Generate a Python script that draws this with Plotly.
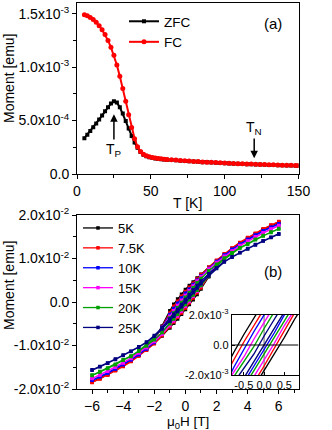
import numpy as np
import plotly.graph_objects as go

FONT = "Arial, 'Liberation Sans', Helvetica, sans-serif"

# ---------------- panel (a): M(T) ----------------
T_K = [5, 7, 9, 11, 13, 15, 17, 19, 21, 23, 25, 27, 29, 31, 33, 35, 37, 39, 41, 43, 45,
       47, 49, 51, 53, 55, 57, 59, 61,
       64, 67, 70, 73, 76, 79, 82, 85, 88, 91, 94, 97, 100, 103, 106, 109, 112, 115,
       118, 121, 124, 127, 130, 133, 136, 139, 142, 145, 148, 150]
# moments in units of 1e-3 emu
FC_E3 = [1.490, 1.480, 1.465, 1.445, 1.420, 1.388, 1.350, 1.305, 1.250, 1.185, 1.110,
         1.020, 0.915, 0.800, 0.680, 0.555, 0.435, 0.330, 0.255, 0.210, 0.185, 0.170,
         0.161, 0.155, 0.150, 0.146, 0.142, 0.139, 0.136,
         0.133, 0.130, 0.127, 0.124, 0.121, 0.118, 0.116, 0.113, 0.111, 0.109, 0.107,
         0.105, 0.103, 0.101, 0.099, 0.097, 0.096, 0.094, 0.093, 0.091, 0.090, 0.088,
         0.087, 0.086, 0.084, 0.083, 0.082, 0.081, 0.080, 0.079]
ZFC_E3 = [0.335, 0.368, 0.402, 0.437, 0.473, 0.510, 0.548, 0.587, 0.625, 0.660, 0.680,
          0.668, 0.625, 0.565, 0.495, 0.425, 0.355, 0.295, 0.245, 0.205, 0.180, 0.165,
          0.157, 0.151, 0.146, 0.142, 0.139, 0.136, 0.133,
          0.131, 0.128, 0.125, 0.122, 0.119, 0.116, 0.114, 0.111, 0.109, 0.107, 0.105,
          0.103, 0.101, 0.099, 0.097, 0.095, 0.094, 0.092, 0.091, 0.089, 0.088, 0.086,
          0.085, 0.084, 0.082, 0.081, 0.080, 0.079, 0.078, 0.077]

# ---------------- panel (b): M(H) loops ----------------
H_T = [-6, -5.5, -5, -4.5, -4, -3.5, -3, -2.5, -2, -1.5, -1, -0.75, -0.5, -0.25, 0,
       0.25, 0.5, 0.75, 1, 1.5, 2, 2.5, 3, 3.5, 4, 4.5, 5, 5.5, 6]
LOOP_LABELS = ["5K", "7.5K", "10K", "15K", "20K", "25K"]
LOOP_COLORS = ["#000000", "#FF0000", "#0000FF", "#FF00FF", "#00A000", "#000080"]
# descending-field branch (listed in ascending-field order), units of 1e-2 emu
DOWN_E2 = [
    [-1.83, -1.75, -1.66, -1.56, -1.46, -1.35, -1.22, -1.07, -0.88, -0.55, -0.20, -0.05, 0.07, 0.18, 0.29,
     0.38, 0.46, 0.55, 0.64, 0.80, 0.95, 1.10, 1.23, 1.36, 1.47, 1.57, 1.67, 1.76, 1.84],
    [-1.84, -1.76, -1.67, -1.57, -1.47, -1.36, -1.23, -1.08, -0.88, -0.57, -0.25, -0.10, 0.02, 0.13, 0.24,
     0.34, 0.43, 0.53, 0.63, 0.80, 0.96, 1.11, 1.24, 1.37, 1.48, 1.58, 1.68, 1.77, 1.85],
    [-1.79, -1.71, -1.63, -1.53, -1.43, -1.32, -1.20, -1.05, -0.86, -0.58, -0.29, -0.15, -0.03, 0.09, 0.20,
     0.30, 0.40, 0.50, 0.60, 0.77, 0.93, 1.08, 1.21, 1.33, 1.44, 1.54, 1.64, 1.72, 1.80],
    [-1.75, -1.67, -1.58, -1.49, -1.39, -1.29, -1.16, -1.02, -0.85, -0.60, -0.33, -0.20, -0.08, 0.04, 0.15,
     0.26, 0.37, 0.48, 0.58, 0.76, 0.91, 1.05, 1.17, 1.30, 1.40, 1.50, 1.59, 1.68, 1.76],
    [-1.68, -1.60, -1.52, -1.43, -1.33, -1.24, -1.12, -0.98, -0.82, -0.60, -0.37, -0.25, -0.13, -0.01, 0.11,
     0.22, 0.33, 0.44, 0.54, 0.72, 0.87, 1.01, 1.13, 1.25, 1.34, 1.44, 1.53, 1.61, 1.69],
    [-1.56, -1.48, -1.40, -1.31, -1.22, -1.13, -1.03, -0.92, -0.77, -0.59, -0.39, -0.28, -0.17, -0.06, 0.06,
     0.17, 0.28, 0.38, 0.48, 0.65, 0.79, 0.93, 1.04, 1.14, 1.23, 1.32, 1.41, 1.49, 1.57],
]
# ascending-field branch, units of 1e-2 emu
UP_E2 = [
    [-1.84, -1.76, -1.67, -1.57, -1.47, -1.36, -1.23, -1.10, -0.95, -0.78, -0.60, -0.49, -0.39, -0.28, -0.17,
     -0.06, 0.05, 0.17, 0.30, 0.58, 0.86, 1.06, 1.22, 1.35, 1.46, 1.56, 1.66, 1.75, 1.83],
    [-1.85, -1.77, -1.68, -1.58, -1.48, -1.37, -1.24, -1.11, -0.96, -0.77, -0.57, -0.46, -0.35, -0.25, -0.14,
     -0.02, 0.09, 0.21, 0.33, 0.60, 0.87, 1.08, 1.23, 1.36, 1.47, 1.57, 1.67, 1.76, 1.84],
    [-1.80, -1.72, -1.64, -1.54, -1.44, -1.33, -1.21, -1.08, -0.93, -0.70, -0.47, -0.36, -0.25, -0.14, -0.03,
     0.08, 0.20, 0.31, 0.42, 0.65, 0.87, 1.05, 1.20, 1.32, 1.43, 1.53, 1.63, 1.71, 1.79],
    [-1.76, -1.68, -1.59, -1.50, -1.40, -1.30, -1.17, -1.05, -0.91, -0.74, -0.54, -0.43, -0.32, -0.21, -0.10,
     0.01, 0.13, 0.25, 0.37, 0.62, 0.85, 1.02, 1.16, 1.29, 1.39, 1.49, 1.58, 1.67, 1.75],
    [-1.69, -1.61, -1.53, -1.44, -1.34, -1.25, -1.13, -1.01, -0.87, -0.70, -0.50, -0.39, -0.28, -0.17, -0.06,
     0.05, 0.16, 0.27, 0.38, 0.60, 0.82, 0.98, 1.12, 1.24, 1.33, 1.43, 1.52, 1.60, 1.68],
    [-1.57, -1.49, -1.41, -1.32, -1.23, -1.14, -1.04, -0.93, -0.79, -0.62, -0.44, -0.33, -0.22, -0.11, 0.00,
     0.11, 0.22, 0.32, 0.42, 0.60, 0.77, 0.92, 1.03, 1.13, 1.22, 1.31, 1.40, 1.48, 1.56],
]

A_YTICKS = [0, 5e-4, 1e-3, 1.5e-3]
A_YTEXT = ["0.0", "5.0x10<sup>-4</sup>", "1.0x10<sup>-3</sup>", "1.5x10<sup>-3</sup>"]
B_YTICKS = [-2e-2, -1e-2, 0, 1e-2, 2e-2]
B_YTEXT = ["-2.0x10<sup>-2</sup>", "-1.0x10<sup>-2</sup>", "0.0", "1.0x10<sup>-2</sup>", "2.0x10<sup>-2</sup>"]
B_XTICKS = [-6, -4, -2, 0, 2, 4, 6]
IN_YTICKS = [-2e-3, 0, 2e-3]
IN_YTEXT = ["-2.0x10<sup>-3</sup>", "0.0", "2.0x10<sup>-3</sup>"]
IN_XTICKS = [-0.5, 0, 0.5]
IN_XTEXT = ["-0.5", "0.0", "0.5"]

W, Hh = 332, 430
def px(x): return x / W
def py(y): return 1 - y / Hh

XDOM = [px(77), px(298.5)]
fig = go.Figure()

fig.add_trace(go.Scatter(x=T_K, y=np.array(ZFC_E3) * 1e-3, mode="lines+markers", name="ZFC",
                         line=dict(color="black", width=2),
                         marker=dict(symbol="square", size=4, color="black"),
                         xaxis="x", yaxis="y", legend="legend"))
fig.add_trace(go.Scatter(x=T_K, y=np.array(FC_E3) * 1e-3, mode="lines+markers", name="FC",
                         line=dict(color="#FF0000", width=2),
                         marker=dict(symbol="circle", size=5, color="#FF0000"),
                         xaxis="x", yaxis="y", legend="legend"))

for lab, col, dn, up in zip(LOOP_LABELS, LOOP_COLORS, DOWN_E2, UP_E2):
    xs = H_T[::-1] + H_T
    ys = (np.array(dn[::-1] + up) * 1e-2)
    fig.add_trace(go.Scatter(x=xs, y=ys, mode="lines+markers", name=lab,
                             line=dict(color=col, width=1.3),
                             marker=dict(symbol="square", size=3.5, color=col),
                             xaxis="x2", yaxis="y2", legend="legend2"))
for lab, col, dn, up in zip(LOOP_LABELS, LOOP_COLORS, DOWN_E2, UP_E2):
    xs = H_T[::-1] + H_T
    ys = (np.array(dn[::-1] + up) * 1e-2)
    fig.add_trace(go.Scatter(x=xs, y=ys, mode="lines", name=lab, showlegend=False,
                             line=dict(color=col, width=1.4),
                             xaxis="x3", yaxis="y3"))

axc = dict(showline=True, linecolor="black", linewidth=1, mirror=True, showgrid=False,
           zeroline=False, ticks="outside", ticklen=4, tickwidth=1, tickcolor="black",
           tickangle=0, automargin=False, tickfont=dict(family=FONT, size=14, color="black"))
ovc = dict(showline=False, showgrid=False, zeroline=False, ticks="inside", ticklen=4,
           tickwidth=1, tickcolor="black", showticklabels=False, automargin=False)

fig.update_layout(
    width=W, height=Hh, autosize=False, hovermode=False,
    margin=dict(l=0, r=0, t=0, b=0, pad=0, autoexpand=False),
    paper_bgcolor="white", plot_bgcolor="white",
    font=dict(family=FONT, size=14, color="black"),
    xaxis=dict(domain=XDOM, anchor="y", range=[0, 150], tickvals=[0, 50, 100, 150],
               minor=dict(tickvals=[25, 75, 125], ticks="outside", ticklen=3), **axc),
    yaxis=dict(domain=[py(174), py(3)], anchor="x", range=[0, 1.6e-3],
               tickvals=A_YTICKS, ticktext=A_YTEXT,
               minor=dict(tickvals=[2.5e-4, 7.5e-4, 1.25e-3], ticks="outside", ticklen=3), **axc),
    xaxis4=dict(overlaying="x", anchor="y", side="top", range=[0, 150],
                tickvals=[0, 50, 100, 150],
                minor=dict(tickvals=[25, 75, 125], ticks="inside", ticklen=4), **ovc),
    yaxis4=dict(overlaying="y", anchor="x", side="right", range=[0, 1.6e-3],
                tickvals=A_YTICKS,
                minor=dict(tickvals=[2.5e-4, 7.5e-4, 1.25e-3], ticks="inside", ticklen=4), **ovc),
    xaxis2=dict(domain=XDOM, anchor="y2", range=[-6.97, 7.27], tickvals=B_XTICKS,
                minor=dict(tickvals=[-5, -3, -1, 1, 3, 5, 7], ticks="outside", ticklen=3), **axc),
    yaxis2=dict(domain=[py(389), py(215)], anchor="x2", range=[-2e-2, 2e-2],
                tickvals=B_YTICKS, ticktext=B_YTEXT,
                minor=dict(tickvals=[-1.5e-2, -0.5e-2, 0.5e-2, 1.5e-2], ticks="outside", ticklen=3), **axc),
    xaxis5=dict(overlaying="x2", anchor="y2", side="top", range=[-6.97, 7.27], tickvals=B_XTICKS,
                minor=dict(tickvals=[-5, -3, -1, 1, 3, 5, 7], ticks="inside", ticklen=4), **ovc),
    yaxis5=dict(overlaying="y2", anchor="x2", side="right", range=[-2e-2, 2e-2], tickvals=B_YTICKS,
                minor=dict(tickvals=[-1.5e-2, -0.5e-2, 0.5e-2, 1.5e-2], ticks="inside", ticklen=4), **ovc),
    xaxis3=dict(domain=[px(231.7), px(298.5)], anchor="y3", range=[-0.8, 0.85],
                tickvals=IN_XTICKS, ticktext=IN_XTEXT, tickangle=0, automargin=False,
                showline=True, linecolor="black", linewidth=1, mirror=True, showgrid=False,
                zeroline=False, ticks="inside", ticklen=3, tickcolor="black",
                tickfont=dict(family=FONT, size=11, color="black")),
    yaxis3=dict(domain=[py(375), py(315)], anchor="x3", range=[-2e-3, 2e-3],
                tickvals=IN_YTICKS, ticktext=IN_YTEXT, tickangle=0, automargin=False,
                showline=True, linecolor="black", linewidth=1, mirror=True, showgrid=False,
                zeroline=False, ticks="inside", ticklen=3, tickcolor="black",
                tickfont=dict(family=FONT, size=11, color="black")),
    legend=dict(x=px(124), y=py(6), xanchor="left", yanchor="top",
                bgcolor="rgba(0,0,0,0)", borderwidth=0,
                font=dict(family=FONT, size=13.5, color="black")),
    legend2=dict(x=px(78), y=py(213), xanchor="left", yanchor="top",
                 bgcolor="rgba(0,0,0,0)", borderwidth=0,
                 font=dict(family=FONT, size=13, color="black")),
)

fig.add_shape(type="line", xref="x3", yref="y3", x0=0, x1=0, y0=-2e-3, y1=2e-3,
              line=dict(color="#808080", width=1.2), layer="below")
fig.add_shape(type="line", xref="x3", yref="y3", x0=-0.8, x1=0.85, y0=0, y1=0,
              line=dict(color="black", width=1), layer="above")

C = dict(xanchor="center", yanchor="middle", showarrow=False)
ann = [
    dict(text="Moment [emu]", xref="paper", yref="paper", x=px(9), y=py(79),
         textangle=-90, font=dict(size=14), **C),
    dict(text="Moment [emu]", xref="paper", yref="paper", x=px(9), y=py(286),
         textangle=-90, font=dict(size=14), **C),
    dict(text="T [K]", xref="paper", yref="paper", x=px(187), y=py(203),
         font=dict(size=14), **C),
    dict(text="\u03bc<sub>0</sub>H [T]", xref="paper", yref="paper", x=px(188), y=py(422),
         font=dict(size=13.5), borderpad=0, **C),
    dict(text="(a)", xref="x", yref="y", x=133, y=1.41e-3, font=dict(size=15), **C),
    dict(text="(b)", xref="x2", yref="y2", x=5.6, y=0.0069, font=dict(size=15), **C),
    dict(text="T<sub>P</sub>", xref="x", yref="y", x=25, y=0.56e-3, axref="x", ayref="y",
         ax=25, ay=0.225e-3, showarrow=True, arrowhead=2, arrowsize=1, arrowwidth=1.5,
         arrowcolor="black", font=dict(size=14)),
    dict(text="T<sub>N</sub>", xref="x", yref="y", x=120, y=0.147e-3, axref="x", ayref="y",
         ax=120, ay=0.43e-3, showarrow=True, arrowhead=2, arrowsize=1, arrowwidth=1.5,
         arrowcolor="black", font=dict(size=14)),
]
fig.update_layout(annotations=ann)

fig.write_html("out.html", config={"displayModeBar": False},
               post_script="document.body.style.margin='0';")
